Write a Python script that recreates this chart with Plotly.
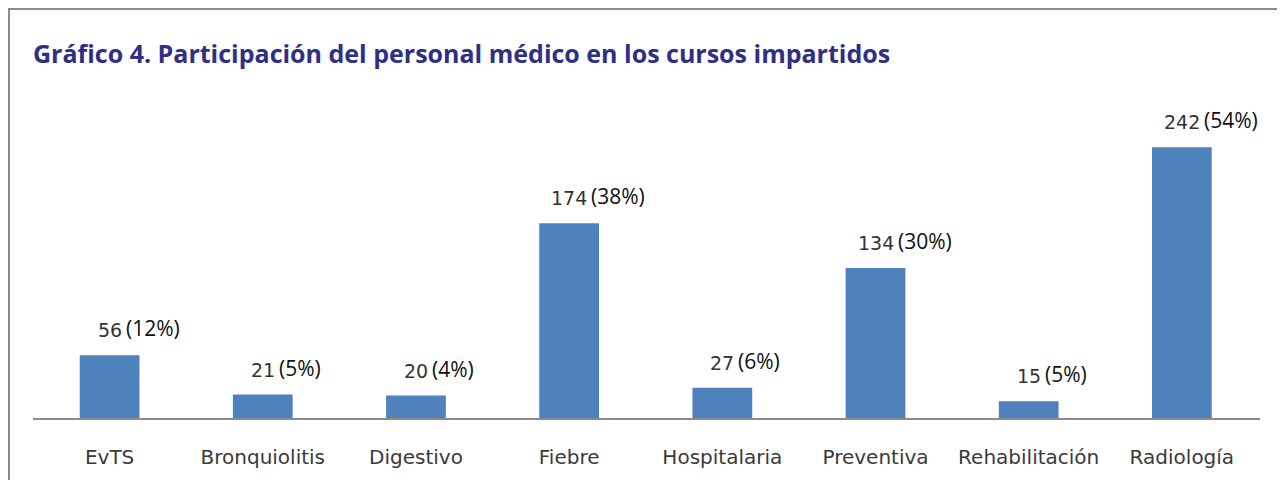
import plotly.graph_objects as go

# Data
categories = ["EvTS", "Bronquiolitis", "Digestivo", "Fiebre", "Hospitalaria",
              "Preventiva", "Rehabilitación", "Radiología"]
participants = [56, 21, 20, 174, 27, 134, 15, 242]
percent_labels = ["(12%)", "(5%)", "(4%)", "(38%)", "(6%)", "(30%)", "(5%)", "(54%)"]

title_text = "Gráfico 4. Participación del personal médico en los cursos impartidos"

bar_color = "#4F81BD"
text_color = "#333333"
title_color = "#2F2F86"

# the page has an 8px body margin, so the figure is sized to fit inside it
fig_w, fig_h = 1269, 472

fig = go.Figure()

fig.add_trace(go.Bar(
    x=categories, y=participants,
    marker=dict(color=bar_color, line=dict(width=0)),
    width=0.39,
    hoverinfo="x+y",
    showlegend=False,
))

# Value labels: number centred on the bar, percentage appended to the right
num_size = 19
for cat, n, pct in zip(categories, participants, percent_labels):
    num_w = len(str(n)) * 0.636 * num_size
    fig.add_annotation(
        x=cat, y=n, text=str(n), showarrow=False,
        xanchor="center", yanchor="bottom", yshift=12,
        font=dict(family="DejaVu Sans", size=num_size, color=text_color),
    )
    fig.add_annotation(
        x=cat, y=n, text=pct, showarrow=False,
        xanchor="left", yanchor="bottom", yshift=11, xshift=num_w / 2 + 2,
        font=dict(family="Open Sans", size=21, color="#111111"),
    )

# Outer frame of the chart (left and top edges visible)
l, r, t, b = 25, 17, 119, 62
pw = fig_w - l - r
ph = fig_h - t - b
fig.add_shape(
    type="rect", xref="paper", yref="paper",
    x0=(1 - l) / pw, x1=1.2, y0=-0.5, y1=(ph + t - 1) / ph,
    line=dict(color="#8C8C8C", width=2), fillcolor="rgba(0,0,0,0)",
    layer="below",
)

fig.update_layout(
    width=fig_w, height=fig_h,
    paper_bgcolor="white", plot_bgcolor="white",
    margin=dict(l=l, r=r, t=t, b=b),
    title=dict(
        text=f"<b>{title_text}</b>",
        x=l / fig_w, xanchor="left",
        y=1 - 46 / fig_h, yanchor="middle",
        font=dict(family="Open Sans", size=25, color=title_color),
    ),
    xaxis=dict(
        showgrid=False, showline=True, linecolor="#8C8C8C", linewidth=2,
        ticks="", ticklabelstandoff=20,
        tickfont=dict(family="DejaVu Sans", size=20, color="#3A3A3A"),
    ),
    yaxis=dict(
        range=[0, 260], visible=False, showgrid=False, zeroline=False,
    ),
    bargap=0.61,
)

fig.write_html("out.html")
